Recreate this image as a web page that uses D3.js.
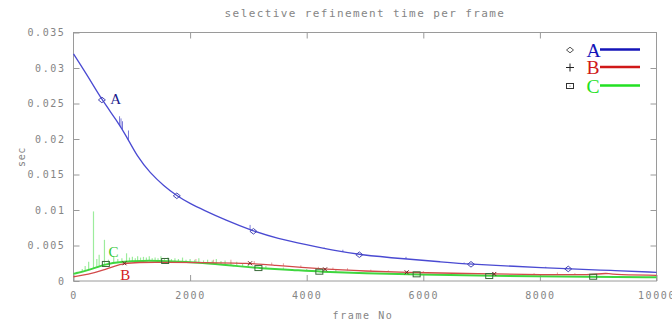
<!DOCTYPE html>
<html>
<head>
<meta charset="utf-8">
<script src="https://cdn.jsdelivr.net/npm/d3@7"></script>
<style>
  body { margin: 0; background: #fff; }
  svg { display: block; }
  .mono { font-family: "DejaVu Sans Mono", monospace; fill: #858585; }
</style>
</head>
<body>
<div id="chart"></div>
<script>
// curve values (frame, sec)
var framesA = [0, 250, 487, 744, 915, 1087, 1315, 1550, 1772, 2000, 2229, 2600, 3086, 3500, 4000, 4457, 4903, 5703, 6300, 6818, 7500, 8486, 9200, 10000];
var secA = [0.0320, 0.0288, 0.0255, 0.0226, 0.0203, 0.0176, 0.0152, 0.0134, 0.0120, 0.0109, 0.0100, 0.0086, 0.0070, 0.0060, 0.0051, 0.0043, 0.0037, 0.0031, 0.0027, 0.00235, 0.0021, 0.0017, 0.0015, 0.00122];

var framesB = [0, 250, 514, 700, 874, 1086, 1572, 2229, 3029, 3372, 4315, 5000, 5715, 6540, 7217, 8000, 8900, 9170, 9190, 10000];
var secB = [0.0006, 0.0009, 0.00155, 0.0021, 0.0025, 0.00263, 0.00263, 0.00258, 0.0025, 0.00225, 0.00164, 0.0014, 0.00122, 0.00108, 0.00099, 0.0009, 0.00085, 0.00115, 0.0009, 0.0008];

var framesC = [0, 250, 555, 800, 1200, 1572, 2229, 2800, 3200, 3771, 4217, 5000, 5886, 7131, 8914, 10000];
var secC = [0.0010, 0.0015, 0.0024, 0.00272, 0.00286, 0.00282, 0.00258, 0.0021, 0.0018, 0.00155, 0.00131, 0.0011, 0.00094, 0.0007, 0.0006, 0.00052];

// point markers along each curve
var markA = [487, 1772, 3086, 4903, 6818, 8486];
var markB = [874, 3029, 4315, 5715, 7217];
var markC = [555, 1572, 3172, 4217, 5886, 7131, 8914];

// spikes in the raw timings: [frame, peak sec]
var spikesA = [[790, 0.0232], [815, 0.0229], [840, 0.0225], [943, 0.0212], [3029, 0.0079], [4300, 0.0047], [4620, 0.0044], [5703, 0.0034], [6700, 0.0026], [8100, 0.0020]];
var spikesB = [[2100, 0.0031], [2400, 0.0030], [2700, 0.0030], [3100, 0.0028], [3400, 0.0026], [3600, 0.0025], [3900, 0.0022], [4200, 0.0020], [4450, 0.0019], [4700, 0.0018], [5100, 0.0016], [5400, 0.0015], [6000, 0.0014], [7200, 0.0012], [7900, 0.0011], [8300, 0.0012], [8600, 0.0011]];
var spikesC = [[60, 0.0013], [150, 0.0017], [200, 0.0021], [260, 0.0027], [343, 0.0098], [400, 0.0031], [440, 0.0037], [531, 0.0058], [600, 0.0030], [690, 0.0035], [760, 0.0031],
  [830, 0.0032], [910, 0.0039], [960, 0.0033], [1010, 0.0034], [1060, 0.0032], [1100, 0.0035], [1150, 0.0033], [1200, 0.0034], [1250, 0.0033], [1300, 0.0035],
  [1350, 0.0032], [1400, 0.0033], [1450, 0.0032], [1500, 0.0035], [1560, 0.0032], [1620, 0.0033], [1680, 0.0031], [1740, 0.0032], [1800, 0.0031], [1870, 0.0033],
  [1930, 0.0030], [2000, 0.0031], [2080, 0.0030], [2150, 0.0032], [2230, 0.0029], [2300, 0.0030], [2380, 0.0029], [2450, 0.0031], [2530, 0.0028], [2600, 0.0029],
  [2700, 0.0027], [2800, 0.0027], [2900, 0.0025], [3000, 0.0024], [3300, 0.0021], [3600, 0.0019], [4000, 0.0017], [4500, 0.0016]];

var names = ["A", "B", "C"];
var xTicks = [0, 2000, 4000, 6000, 8000, 10000];
var yTicks = [0, 0.005, 0.01, 0.015, 0.02, 0.025, 0.03, 0.035];
// in-plot annotations: [name, frame, sec]
var notes = [["A", 630, 0.0249], ["C", 600, 0.0034], ["B", 800, 0.0002]];

var w = 672, h = 323;
var margin = { top: 32.5, right: 15.5, bottom: 42, left: 73.5 };

var lineColor = { A: "#4a4ad2", B: "#d24a4a", C: "#3fd63f" };
var spikeColor = { A: "#7a7ad8", B: "#e8a0a0", C: "#9cec9c" };
var keyColor = { A: "#1414b8", B: "#d01818", C: "#22e022" };
var noteColor = { A: "#1a1a8c", B: "#d42020", C: "#33c833" };

var svg = d3.select("#chart").append("svg").attr("width", w).attr("height", h);

var x = d3.scaleLinear().domain([0, 10000]).range([margin.left, w - margin.right]);
var y = d3.scaleLinear().domain([0, 0.035]).range([h - margin.bottom, margin.top]);

var fmt = function(d) { return d === 0 ? "0" : String(+d.toFixed(3)); };

function styleAxis(g) {
  g.select(".domain").remove();
  g.selectAll(".tick line").attr("stroke", "#9a9a9a");
  g.selectAll(".tick text")
    .attr("class", "mono")
    .style("font-size", "10px")
    .style("letter-spacing", "1.6px")
    .attr("fill", "#858585");
}

svg.append("g")
  .attr("transform", "translate(" + margin.left + ",0)")
  .call(d3.axisLeft(y).tickValues(yTicks).tickFormat(fmt).tickSizeInner(-6).tickSizeOuter(0).tickPadding(8))
  .call(styleAxis);
svg.append("g")
  .attr("transform", "translate(" + (w - margin.right) + ",0)")
  .call(d3.axisRight(y).tickValues(yTicks.slice(1, -1)).tickFormat("").tickSizeInner(-6).tickSizeOuter(0))
  .call(styleAxis);
svg.append("g")
  .attr("transform", "translate(0," + (h - margin.bottom) + ")")
  .call(d3.axisBottom(x).tickValues(xTicks).tickFormat(d3.format("d")).tickSizeInner(-6).tickSizeOuter(0).tickPadding(11))
  .call(styleAxis);
svg.append("g")
  .attr("transform", "translate(0," + margin.top + ")")
  .call(d3.axisTop(x).tickValues(xTicks.slice(1, -1)).tickFormat("").tickSizeInner(-6).tickSizeOuter(0))
  .call(styleAxis);

// frame
svg.append("rect")
  .attr("x", margin.left).attr("y", margin.top)
  .attr("width", w - margin.left - margin.right)
  .attr("height", h - margin.top - margin.bottom)
  .attr("fill", "none").attr("stroke", "#9a9a9a");

var series = {
  A: { f: framesA, s: secA, marks: markA, spikes: spikesA },
  B: { f: framesB, s: secB, marks: markB, spikes: spikesB },
  C: { f: framesC, s: secC, marks: markC, spikes: spikesC }
};

var line = d3.line()
  .x(function(d) { return x(d[0]); })
  .y(function(d) { return y(d[1]); })
  .curve(d3.curveBasis);

var plot = svg.append("g");

// raw spikes first, curves on top
["B", "C", "A"].forEach(function(k) {
  var sr = series[k];
  var at = d3.scaleLinear().domain(sr.f).range(sr.s);
  plot.append("g").selectAll("line")
    .data(sr.spikes)
    .join("line")
    .attr("x1", function(d) { return x(d[0]); })
    .attr("x2", function(d) { return x(d[0]); })
    .attr("y1", function(d) { return y(at(d[0])); })
    .attr("y2", function(d) { return y(d[1]); })
    .attr("stroke", spikeColor[k])
    .attr("stroke-width", k === "C" ? 1.2 : 1);
});

["C", "B", "A"].forEach(function(k) {
  var sr = series[k];
  plot.append("path")
    .datum(d3.zip(sr.f, sr.s))
    .attr("d", line)
    .attr("fill", "none")
    .attr("stroke", lineColor[k])
    .attr("stroke-width", k === "C" ? 2 : 1.3);
});

// markers
function diamond(g, cx, cy, r, col) {
  g.append("path")
    .attr("d", "M" + (cx - r) + "," + cy + "L" + cx + "," + (cy - r * 0.8) + "L" + (cx + r) + "," + cy + "L" + cx + "," + (cy + r * 0.8) + "Z")
    .attr("fill", "none").attr("stroke", col).attr("stroke-width", 1);
}
function cross(g, cx, cy, r, col, plus) {
  var p = plus
    ? "M" + (cx - r) + "," + cy + "H" + (cx + r) + "M" + cx + "," + (cy - r) + "V" + (cy + r)
    : "M" + (cx - r) + "," + (cy - r) + "L" + (cx + r) + "," + (cy + r) + "M" + (cx - r) + "," + (cy + r) + "L" + (cx + r) + "," + (cy - r);
  g.append("path").attr("d", p).attr("stroke", col).attr("stroke-width", 1).attr("fill", "none");
}
function square(g, cx, cy, col) {
  g.append("rect").attr("x", cx - 3.5).attr("y", cy - 2.5).attr("width", 7).attr("height", 5)
    .attr("fill", "none").attr("stroke", col).attr("stroke-width", 1);
}

var mk = plot.append("g");
names.forEach(function(k) {
  var sr = series[k];
  var at = d3.scaleLinear().domain(sr.f).range(sr.s);
  sr.marks.forEach(function(fr) {
    var cx = x(fr), cy = y(at(fr));
    if (k === "A") diamond(mk, cx, cy, 3.5, "#4646b4");
    else if (k === "B") cross(mk, cx, cy, 2, "#6a2020", false);
    else square(mk, cx, cy, "#3a6a3a");
  });
});

// in-plot letters
svg.append("g").selectAll("text")
  .data(notes)
  .join("text")
  .attr("x", function(d) { return x(d[1]); })
  .attr("y", function(d) { return y(d[2]); })
  .attr("fill", function(d) { return noteColor[d[0]]; })
  .style("font-family", "'Liberation Serif', 'DejaVu Serif', serif")
  .style("font-size", "15px")
  .text(function(d) { return d[0]; });

// legend
var legend = svg.append("g");
var keyY = [50, 67.5, 86];
names.forEach(function(k, i) {
  var cy = keyY[i];
  if (i === 0) diamond(legend, 570, cy, 3.5, "#555");
  else if (i === 1) cross(legend, 570, cy, 4, "#222", true);
  else {
    square(legend, 570, cy, "#333");
    legend.append("circle").attr("cx", 570).attr("cy", cy).attr("r", 0.6).attr("fill", "#555");
  }
  legend.append("text")
    .attr("x", 586.5).attr("y", cy + 6.5)
    .attr("fill", keyColor[k])
    .style("font-family", "'Liberation Serif', 'DejaVu Serif', serif")
    .style("font-size", "19.5px")
    .text(k);
  legend.append("line")
    .attr("x1", 600).attr("x2", 640)
    .attr("y1", cy - 0.5).attr("y2", cy - 0.5)
    .attr("stroke", keyColor[k]).attr("stroke-width", 2.5);
});

// title and axis names
svg.append("text").attr("class", "mono")
  .attr("x", (margin.left + w - margin.right) / 2).attr("y", 17)
  .attr("text-anchor", "middle")
  .style("font-size", "11px").style("letter-spacing", "1.4px")
  .text("selective refinement time per frame");

svg.append("text").attr("class", "mono")
  .attr("x", 363).attr("y", 319)
  .attr("text-anchor", "middle")
  .style("font-size", "10px").style("letter-spacing", "1.6px")
  .text("frame No");

svg.append("text").attr("class", "mono")
  .attr("transform", "translate(25,157) rotate(-90)")
  .attr("text-anchor", "middle")
  .style("font-size", "10px").style("letter-spacing", "0.6px")
  .text("sec");
</script>
</body>
</html>
